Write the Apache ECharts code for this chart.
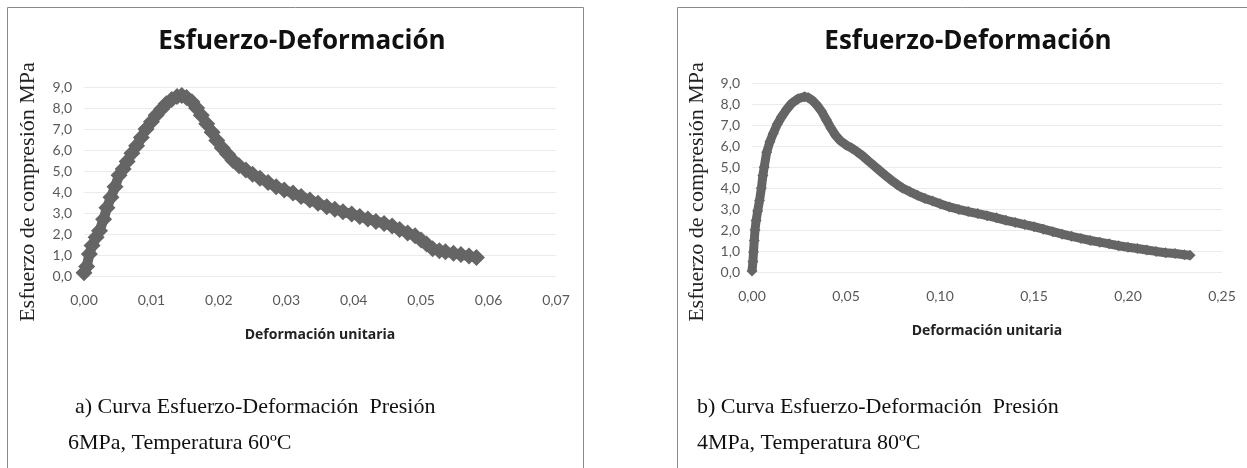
<!DOCTYPE html>
<html>
<head>
<meta charset="utf-8">
<script src="https://cdn.jsdelivr.net/npm/echarts@6/dist/echarts.min.js"></script>
<style>
  html, body { margin: 0; padding: 0; background: #fff; }
  #chart { width: 1247px; height: 468px; }
</style>
</head>
<body>
<div id="chart"></div>
<script>
// curva a) 6MPa, 60ºC
var strainA = [0.0000, 0.0004, 0.0008, 0.0012, 0.0018, 0.0023, 0.0029, 0.0034, 0.0040, 0.0046,
    0.0052, 0.0058, 0.0064, 0.0071, 0.0078, 0.0085, 0.0092, 0.0100, 0.0107, 0.0115,
    0.0122, 0.0130, 0.0138, 0.0145, 0.0152, 0.0160, 0.0167, 0.0174, 0.0182, 0.0190,
    0.0197, 0.0205, 0.0213, 0.0221, 0.0230, 0.0240, 0.0250, 0.0261, 0.0273, 0.0285,
    0.0297, 0.0310, 0.0322, 0.0335, 0.0347, 0.0360, 0.0372, 0.0384, 0.0397, 0.0409,
    0.0421, 0.0433, 0.0445, 0.0457, 0.0468, 0.0480, 0.0491, 0.0500, 0.0508, 0.0517,
    0.0527, 0.0536, 0.0548, 0.0559, 0.0571, 0.0582];
var stressA = [0.15, 0.45, 1.05, 1.45, 1.85, 2.15, 2.70, 3.25, 3.75, 4.25,
    4.80, 5.10, 5.45, 5.85, 6.20, 6.60, 7.00, 7.35, 7.65, 7.95,
    8.20, 8.40, 8.55, 8.60, 8.50, 8.30, 8.00, 7.65, 7.25, 6.85,
    6.45, 6.10, 5.80, 5.50, 5.25, 5.05, 4.85, 4.65, 4.45, 4.25,
    4.10, 3.95, 3.78, 3.62, 3.46, 3.30, 3.18, 3.06, 2.95, 2.83,
    2.72, 2.60, 2.50, 2.38, 2.22, 2.05, 1.92, 1.72, 1.52, 1.30,
    1.20, 1.15, 1.08, 1.02, 0.95, 0.88];

// curva b) 4MPa, 80ºC
var strainB = [0.0000, 0.0005, 0.0008, 0.0012, 0.0016, 0.0022, 0.0030, 0.0040, 0.0050, 0.0058,
    0.0065, 0.0078, 0.0095, 0.0113, 0.0135, 0.0158, 0.0185, 0.0211, 0.0245, 0.0280,
    0.0300, 0.0320, 0.0345, 0.0370, 0.0395, 0.0420, 0.0445, 0.0470, 0.0500, 0.0530,
    0.0560, 0.0590, 0.0620, 0.0650, 0.0680, 0.0710, 0.0740, 0.0770, 0.0800, 0.0840,
    0.0880, 0.0920, 0.0960, 0.1000, 0.1050, 0.1100, 0.1150, 0.1200, 0.1250, 0.1300,
    0.1350, 0.1400, 0.1450, 0.1500, 0.1550, 0.1600, 0.1650, 0.1700, 0.1750, 0.1800,
    0.1850, 0.1900, 0.1950, 0.2000, 0.2050, 0.2100, 0.2150, 0.2200, 0.2250, 0.2300,
    0.2330];
var stressB = [0.05, 0.50, 0.95, 1.50, 2.00, 2.45, 2.90, 3.40, 4.00, 4.60,
    5.00, 5.70, 6.20, 6.60, 7.05, 7.40, 7.75, 8.03, 8.25, 8.35,
    8.30, 8.18, 7.95, 7.65, 7.25, 6.85, 6.50, 6.25, 6.05, 5.90,
    5.72, 5.52, 5.28, 5.05, 4.82, 4.60, 4.38, 4.18, 4.00, 3.82,
    3.65, 3.50, 3.38, 3.25, 3.10, 2.98, 2.88, 2.78, 2.68, 2.58,
    2.46, 2.36, 2.26, 2.16, 2.04, 1.92, 1.80, 1.70, 1.60, 1.50,
    1.42, 1.34, 1.25, 1.18, 1.12, 1.05, 0.98, 0.92, 0.88, 0.82,
    0.80];

var yTicks = [0, 1, 2, 3, 4, 5, 6, 7, 8, 9];
var xTicksA = [0, 0.01, 0.02, 0.03, 0.04, 0.05, 0.06, 0.07];
var xTicksB = [0, 0.05, 0.10, 0.15, 0.20, 0.25];

var chartTitle = 'Esfuerzo-Deformación';
var xName = 'Deformación unitaria';
var yName = 'Esfuerzo de compresión MPa';
var captionA = ['a) Curva Esfuerzo-Deformación  Presión', '6MPa, Temperatura 60ºC'];
var captionB = ['b) Curva Esfuerzo-Deformación  Presión', '4MPa, Temperatura 80ºC'];

var markColor = '#656565';
var labelFont = 'Lato, "Open Sans", sans-serif';
var boldFont = '"Open Sans", Lato, sans-serif';
var serifFont = '"Liberation Serif", "DejaVu Serif", serif';

function pairs(xs, ys) {
    var out = [];
    for (var i = 0; i < xs.length; i++) {
        out.push([xs[i], ys[i]]);
    }
    return out;
}

function comma(digits) {
    return function (v) {
        return v.toFixed(digits).replace('.', ',');
    };
}

function xAxisOf(idx, ticks) {
    return {
        type: 'value',
        gridIndex: idx,
        min: ticks[0],
        max: ticks[ticks.length - 1],
        interval: ticks[1] - ticks[0],
        name: xName,
        nameLocation: 'middle',
        nameGap: 52,
        nameTextStyle: {fontFamily: boldFont, fontWeight: 'bold', fontSize: 14, color: '#222'},
        axisLine: {show: false},
        axisTick: {show: false},
        splitLine: {show: false},
        axisLabel: {margin: 17, fontFamily: labelFont, fontSize: 14, color: '#595959', formatter: comma(2)}
    };
}

function yAxisOf(idx) {
    return {
        type: 'value',
        gridIndex: idx,
        min: yTicks[0],
        max: yTicks[yTicks.length - 1],
        interval: 1,
        axisLine: {show: false},
        axisTick: {show: false},
        splitLine: {lineStyle: {color: '#ebebeb', width: 1}},
        axisLabel: {margin: 12, fontFamily: labelFont, fontSize: 14, color: '#595959', formatter: comma(1)}
    };
}

function seriesOf(idx, data, size, width) {
    return {
        type: 'line',
        xAxisIndex: idx,
        yAxisIndex: idx,
        data: data,
        symbol: 'diamond',
        symbolSize: size,
        showAllSymbol: true,
        silent: true,
        animation: false,
        itemStyle: {color: markColor},
        lineStyle: {color: markColor, width: width}
    };
}

function caption(x, y, txt) {
    return {
        type: 'text', left: x, top: y,
        style: {text: txt, fontFamily: serifFont, fontSize: 22, fill: '#111'}
    };
}

var dom = document.getElementById('chart');
var myChart = echarts.init(dom);

var option = {
    backgroundColor: '#fff',
    animation: false,
    title: [
        {text: chartTitle, left: 297, top: 24, textAlign: 'center',
            textStyle: {fontFamily: boldFont, fontWeight: 'bold', fontSize: 26, color: '#111'}},
        {text: chartTitle, left: 963, top: 24, textAlign: 'center',
            textStyle: {fontFamily: boldFont, fontWeight: 'bold', fontSize: 26, color: '#111'}}
    ],
    grid: [
        {left: 84, right: 691, top: 87, bottom: 192},
        {left: 752, right: 25, top: 83, bottom: 196}
    ],
    xAxis: [xAxisOf(0, xTicksA), xAxisOf(1, xTicksB)],
    yAxis: [yAxisOf(0), yAxisOf(1)],
    series: [
        seriesOf(0, pairs(strainA, stressA), 17, 10),
        seriesOf(1, pairs(strainB, stressB), 11, 9)
    ],
    graphic: [
        // marcos de cada figura
        {type: 'polyline', shape: {points: [[7.5, 468], [7.5, 7.5], [583.5, 7.5], [583.5, 468]]},
            style: {stroke: '#8a8a8a', lineWidth: 1, fill: null}},
        {type: 'polyline', shape: {points: [[677.5, 468], [677.5, 7.5], [1247, 7.5]]},
            style: {stroke: '#8a8a8a', lineWidth: 1, fill: null}},
        // titulos de eje Y
        {type: 'text', x: 28, y: 192, rotation: Math.PI / 2,
            style: {text: yName, fontFamily: serifFont, fontSize: 22, fill: '#222', align: 'center', verticalAlign: 'middle'}},
        {type: 'text', x: 697, y: 192, rotation: Math.PI / 2,
            style: {text: yName, fontFamily: serifFont, fontSize: 22, fill: '#222', align: 'center', verticalAlign: 'middle'}},
        caption(75, 396, captionA[0]),
        caption(68, 432, captionA[1]),
        caption(697, 396, captionB[0]),
        caption(697, 432, captionB[1])
    ]
};

myChart.setOption(option);
</script>
</body>
</html>
